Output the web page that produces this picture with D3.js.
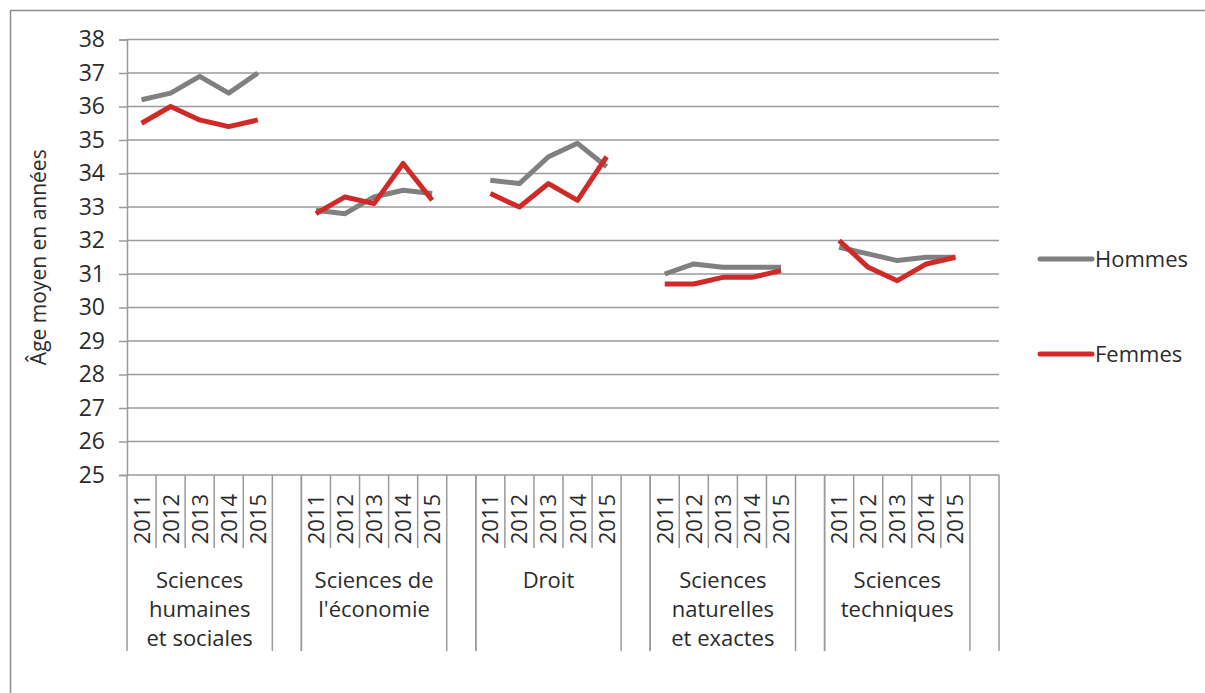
<!DOCTYPE html>
<html>
<head>
<meta charset="utf-8">
<script src="https://cdn.jsdelivr.net/npm/d3@7"></script>
<style>
  body { margin: 0; background: #fff; }
  svg { font-family: "Open Sans", "Noto Sans", sans-serif; }
</style>
</head>
<body>
<div id="chart"></div>
<script>
// data
var years = ["2011", "2012", "2013", "2014", "2015"];
var groupLabels = [
  ["Sciences", "humaines", "et sociales"],
  ["Sciences de", "l'économie"],
  ["Droit"],
  ["Sciences", "naturelles", "et exactes"],
  ["Sciences", "techniques"]
];
var hommes = [
  [36.2, 36.4, 36.9, 36.4, 37.0],
  [32.9, 32.8, 33.3, 33.5, 33.4],
  [33.8, 33.7, 34.5, 34.9, 34.2],
  [31.0, 31.3, 31.2, 31.2, 31.2],
  [31.8, 31.6, 31.4, 31.5, 31.5]
];
var femmes = [
  [35.5, 36.0, 35.6, 35.4, 35.6],
  [32.8, 33.3, 33.1, 34.3, 33.2],
  [33.4, 33.0, 33.7, 33.2, 34.5],
  [30.7, 30.7, 30.9, 30.9, 31.1],
  [32.0, 31.2, 30.8, 31.3, 31.5]
];
var yTicks = d3.range(25, 39);
var seriesNames = ["Hommes", "Femmes"];
var seriesColors = ["#808080", "#cf2a27"];

// size
var W = 1205, H = 693;
var plot = {left: 127, right: 999, top: 39.5, bottom: 475};
var gridColor = "#9a9a9a";
var textColor = "#2b2b2b";

var svg = d3.select("#chart").append("svg").attr("width", W).attr("height", H);

// outer frame (only top/left visible in the picture)
svg.append("rect")
  .attr("x", 10.5).attr("y", 10.5)
  .attr("width", W + 20).attr("height", H + 20)
  .attr("fill", "none").attr("stroke", "#8c8c8c").attr("stroke-width", 1.5);

// slots: 5 years + 1 blank per group
var slots = [];
groupLabels.forEach(function (g, gi) {
  years.forEach(function (yr, yi) { slots.push({g: gi, y: yi, key: gi + "-" + yi}); });
  slots.push({g: gi, y: -1, key: gi + "-blank"});
});

var x = d3.scaleBand().domain(slots.map(function (d) { return d.key; }))
  .range([plot.left, plot.right]).padding(0);
var y = d3.scaleLinear().domain([25, 38]).range([plot.bottom, plot.top]);

// grid
svg.append("g").selectAll("line").data(yTicks.slice(1)).enter().append("line")
  .attr("x1", plot.left).attr("x2", plot.right)
  .attr("y1", function (d) { return y(d); }).attr("y2", function (d) { return y(d); })
  .attr("stroke", gridColor).attr("stroke-width", 1.5);

// y axis
var yAxis = svg.append("g")
  .attr("transform", "translate(" + plot.left + ",0)")
  .call(d3.axisLeft(y).tickValues(yTicks).tickSize(8).tickPadding(14).tickFormat(d3.format("d")));
yAxis.select(".domain").attr("stroke", gridColor).attr("stroke-width", 1.5);
yAxis.selectAll(".tick line").attr("stroke", gridColor).attr("stroke-width", 1.5);
yAxis.selectAll(".tick text").attr("font-size", 23).attr("fill", textColor)
  .attr("font-family", "'Open Sans', sans-serif");

// x axis baseline
svg.append("line")
  .attr("x1", plot.left).attr("x2", plot.right)
  .attr("y1", plot.bottom).attr("y2", plot.bottom)
  .attr("stroke", gridColor).attr("stroke-width", 1.5);

var xAxis = svg.append("g");
// short separators between years
slots.forEach(function (s) {
  if (s.y > 0) {
    xAxis.append("line")
      .attr("x1", x(s.key)).attr("x2", x(s.key))
      .attr("y1", plot.bottom).attr("y2", plot.bottom + 73)
      .attr("stroke", gridColor).attr("stroke-width", 1.5);
  }
});
// long separators round each group and the blank slot
var longEdges = [];
slots.forEach(function (s) {
  if (s.y === 0) longEdges.push(x(s.key));
  if (s.y === -1) { longEdges.push(x(s.key)); longEdges.push(x(s.key) + x.bandwidth()); }
});
xAxis.selectAll("line.long").data(longEdges).enter().append("line")
  .attr("class", "long")
  .attr("x1", function (d) { return d; }).attr("x2", function (d) { return d; })
  .attr("y1", plot.bottom).attr("y2", plot.bottom + 176)
  .attr("stroke", gridColor).attr("stroke-width", 1.5);

// year labels, rotated
xAxis.selectAll("text.year").data(slots.filter(function (s) { return s.y >= 0; }))
  .enter().append("text")
  .attr("class", "year")
  .attr("transform", function (s) {
    return "translate(" + (x(s.key) + x.bandwidth() / 2 + 8) + "," + (plot.bottom + 19) + ") rotate(-90)";
  })
  .attr("text-anchor", "end")
  .attr("font-size", 22).attr("fill", textColor)
  .text(function (s) { return years[s.y]; });

// group labels
groupLabels.forEach(function (lines, gi) {
  var cx = x(gi + "-0") + 2.5 * x.bandwidth();
  var t = xAxis.append("text")
    .attr("text-anchor", "middle").attr("font-size", 22).attr("fill", textColor);
  lines.forEach(function (ln, li) {
    t.append("tspan").attr("x", cx).attr("y", plot.bottom + 113 + li * 29).text(ln);
  });
});

// series lines, one piece per group
var line = d3.line()
  .x(function (d) { return x(d.key) + x.bandwidth() / 2; })
  .y(function (d) { return y(d.v); });

[hommes, femmes].forEach(function (series, si) {
  series.forEach(function (vals, gi) {
    var pts = vals.map(function (v, yi) { return {key: gi + "-" + yi, v: v}; });
    svg.append("path").datum(pts)
      .attr("d", line)
      .attr("fill", "none")
      .attr("stroke", seriesColors[si])
      .attr("stroke-width", 5)
      .attr("stroke-linejoin", "round");
  });
});

// y title
svg.append("text")
  .attr("transform", "translate(46," + ((plot.top + plot.bottom) / 2) + ") rotate(-90)")
  .attr("text-anchor", "middle")
  .attr("font-size", 21).attr("fill", textColor)
  .text("Âge moyen en années");

// legend
var legend = svg.append("g").selectAll("g").data(seriesNames).enter().append("g")
  .attr("transform", function (d, i) { return "translate(1040," + (259 + i * 95) + ")"; });
legend.append("line")
  .attr("x1", 0).attr("x2", 52).attr("y1", 0).attr("y2", 0)
  .attr("stroke", function (d, i) { return seriesColors[i]; })
  .attr("stroke-width", 5).attr("stroke-linecap", "round");
legend.append("text")
  .attr("x", 55).attr("y", 0).attr("dy", "0.35em")
  .attr("font-size", 22).attr("fill", textColor)
  .text(function (d) { return d; });
</script>
</body>
</html>
